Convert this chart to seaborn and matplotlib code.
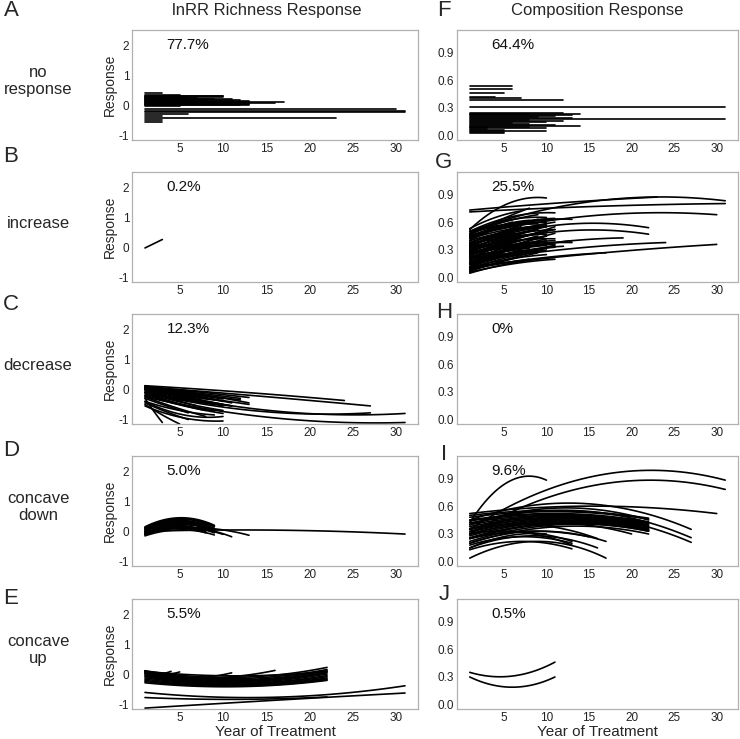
import numpy as np
import pandas as pd
import matplotlib
matplotlib.use("Agg")
import matplotlib.pyplot as plt
import seaborn as sns

# ---- data ----
# A: richness, no response -> flat lines (level, last year)
a_level = [0.41, 0.33, 0.31, 0.30, 0.28, 0.27, 0.25, 0.24, 0.22, 0.21, 0.19, 0.18,
           0.16, 0.12, 0.13, 0.09, 0.10, 0.07, 0.06, 0.04, 0.03, 0.01, 0.00, -0.02,
           -0.12, -0.20, -0.23, -0.30, -0.34, -0.42, -0.48, -0.55]
a_end = [3, 5, 10, 10, 6, 10, 5, 7, 11, 9, 6, 12,
         8, 17, 13, 16, 13, 12, 13, 13, 10, 13, 12, 5,
         30, 31, 31, 6, 3, 23, 3, 3]

# F: composition, no response
f_level = [0.535, 0.50, 0.46, 0.42, 0.41, 0.39, 0.31, 0.245, 0.235, 0.23, 0.22, 0.21,
           0.20, 0.19, 0.185, 0.17, 0.16, 0.15, 0.14, 0.13, 0.12, 0.11, 0.10, 0.09,
           0.08, 0.07, 0.06, 0.05, 0.04, 0.03]
f_end = [6, 6, 5, 4, 7, 12, 31, 12, 14, 8, 13, 11,
         9, 13, 31, 8, 12, 10, 6, 8, 11, 14, 8, 3,
         10, 3, 5, 10, 5, 5]

# fitted curves: last year, value at year 1, value at mid-point, value at last year
b_end = [3]
b_y0 = [-0.02]
b_ymid = [0.12]
b_y1 = [0.26]

c_end = [24, 27, 31, 27, 31, 13, 13, 11, 11, 10, 10, 10, 10, 3, 5, 8, 8, 6, 7, 9,
         9, 12, 7, 6, 9, 10, 5,
         10, 10, 11, 9, 8, 12, 13, 7, 10, 6]
c_y0 = [0.12, 0.08, 0.02, -0.10, -0.25, 0.10, 0.00, 0.05, -0.10, 0.08, -0.02, -0.20,
        -0.55, -0.30, -0.50, -0.10, 0.02, -0.30, -0.15, 0.05, -0.05, 0.10, 0.10, 0.12,
        -0.40, -0.40, 0.00,
        0.00, -0.10, 0.02, -0.20, -0.25, 0.05, 0.08, 0.00, 0.10, -0.45]
c_ymid = [-0.10, -0.22, -0.72, -0.72, -0.95, -0.08, -0.25, -0.18, -0.35, -0.15, -0.30,
          -0.55, -0.95, -0.72, -0.85, -0.45, -0.22, -0.55, -0.40, -0.20, -0.32, -0.10,
          -0.10, -0.05, -0.70, -0.85, -0.20,
          -0.25, -0.45, -0.28, -0.50, -0.60, -0.15, -0.15, -0.30, -0.12, -0.75]
c_y1 = [-0.37, -0.55, -0.80, -0.78, -1.10, -0.27, -0.50, -0.45, -0.55, -0.40, -0.55,
        -0.80, -1.05, -1.10, -1.15, -0.70, -0.40, -0.78, -0.62, -0.35, -0.50, -0.30,
        -0.25, -0.20, -0.85, -0.90, -0.40,
        -0.50, -0.70, -0.55, -0.72, -0.90, -0.35, -0.45, -0.55, -0.32, -1.00]

d_end = [9, 9, 8, 9, 8, 9, 8, 9, 8, 9, 11, 13, 10, 9, 31,
         9, 8, 9, 8, 9]
d_y0 = [0.15, 0.10, 0.12, 0.05, 0.00, 0.00, -0.05, -0.10, -0.12, -0.15, -0.10, -0.05,
        -0.08, 0.08, 0.00,
        0.12, 0.06, -0.03, -0.08, 0.02]
d_ymid = [0.45, 0.40, 0.36, 0.34, 0.30, 0.25, 0.20, 0.15, 0.10, 0.05, 0.12, 0.12,
          0.12, 0.30, 0.04,
          0.42, 0.33, 0.22, 0.16, 0.28]
d_y1 = [0.20, 0.15, 0.22, 0.10, 0.10, 0.05, 0.00, -0.05, -0.05, -0.12, -0.18, -0.13,
        -0.10, 0.18, -0.09,
        0.18, 0.15, 0.02, -0.02, 0.08]

e_end = [22, 22, 22, 22, 22, 22, 22, 22, 22, 22, 22, 22, 22, 4, 5, 11, 16, 31, 22, 31]
e_y0 = [0.12, 0.08, 0.05, 0.02, -0.02, -0.05, -0.08, -0.12, -0.16, -0.20, -0.24, -0.28,
        0.10, 0.12, 0.10, 0.05, 0.02, -0.60, -0.77, -1.12]
e_ymid = [-0.10, -0.14, -0.18, -0.21, -0.24, -0.27, -0.30, -0.32, -0.35, -0.37, -0.39,
          -0.41, -0.05, 0.02, 0.00, -0.12, -0.12, -0.76, -0.83, -0.86]
e_y1 = [0.23, 0.16, 0.12, 0.08, 0.05, 0.01, -0.04, -0.08, -0.12, -0.15, -0.18, -0.20,
        0.10, 0.10, 0.08, 0.05, 0.13, -0.38, -0.75, -0.62]

g_end = [23, 31, 31, 30, 22, 22, 19, 24, 30, 17, 13, 13, 10, 11, 11,
         10, 9, 10, 9, 10, 11, 8, 10, 9, 11, 10, 8, 11, 10, 9, 11, 10,
         8, 9, 7, 8, 6, 10, 11, 9, 8, 10, 11, 13, 10, 9, 7, 6, 5, 12,
         9, 10, 11, 9, 10, 11, 9, 10, 8, 11, 9, 10, 8, 11, 7, 6, 10, 8,
         9, 11, 10, 9, 10, 7, 11, 8]
g_y0 = [0.73, 0.71, 0.50, 0.45, 0.35, 0.30, 0.22, 0.17, 0.12, 0.10, 0.28, 0.45, 0.52,
        0.50, 0.42, 0.48, 0.40, 0.38, 0.35, 0.32, 0.30, 0.28, 0.25, 0.22, 0.20, 0.18,
        0.15, 0.12, 0.10, 0.08, 0.05, 0.07, 0.43, 0.47, 0.53, 0.46, 0.40, 0.36, 0.26,
        0.16, 0.33, 0.44, 0.35, 0.20, 0.12, 0.28, 0.20, 0.30, 0.10, 0.15,
        0.45, 0.40, 0.36, 0.33, 0.30, 0.27, 0.25, 0.23, 0.20, 0.18, 0.14, 0.11, 0.09,
        0.06, 0.38, 0.25, 0.50, 0.37, 0.28, 0.24, 0.15, 0.34, 0.42, 0.12, 0.32, 0.48]
g_ymid = [0.81, 0.77, 0.83, 0.67, 0.57, 0.50, 0.37, 0.31, 0.26, 0.21, 0.36, 0.60, 0.80,
          0.66, 0.58, 0.62, 0.55, 0.50, 0.48, 0.45, 0.42, 0.40, 0.40, 0.35, 0.35, 0.30,
          0.28, 0.25, 0.22, 0.18, 0.16, 0.20, 0.56, 0.60, 0.65, 0.62, 0.52, 0.44, 0.33,
          0.24, 0.46, 0.55, 0.50, 0.32, 0.30, 0.42, 0.32, 0.40, 0.20, 0.28,
          0.55, 0.50, 0.47, 0.42, 0.38, 0.36, 0.33, 0.30, 0.27, 0.27, 0.23, 0.20, 0.15,
          0.15, 0.47, 0.33, 0.58, 0.48, 0.40, 0.40, 0.32, 0.50, 0.52, 0.22, 0.40, 0.56]
g_y1 = [0.87, 0.80, 0.83, 0.68, 0.54, 0.47, 0.43, 0.38, 0.36, 0.27, 0.38, 0.63, 0.86,
        0.70, 0.64, 0.65, 0.60, 0.58, 0.56, 0.55, 0.52, 0.50, 0.50, 0.45, 0.48, 0.40,
        0.38, 0.35, 0.30, 0.27, 0.22, 0.32, 0.62, 0.68, 0.72, 0.75, 0.60, 0.47, 0.36,
        0.28, 0.55, 0.60, 0.60, 0.40, 0.42, 0.52, 0.40, 0.48, 0.27, 0.34,
        0.58, 0.55, 0.52, 0.48, 0.45, 0.40, 0.38, 0.35, 0.32, 0.33, 0.30, 0.25, 0.20,
        0.20, 0.55, 0.38, 0.62, 0.53, 0.47, 0.55, 0.45, 0.63, 0.56, 0.30, 0.42, 0.60]

i_end = [10, 31, 31, 30, 27, 27, 27, 22, 22, 22, 22, 22, 22, 22, 22, 22, 17, 16, 17,
         13, 13, 15, 13, 20, 22,
         22, 22, 22, 22, 22, 22, 22, 22, 13, 10, 16]
i_y0 = [0.42, 0.35, 0.30, 0.52, 0.45, 0.40, 0.35, 0.50, 0.45, 0.42, 0.38, 0.35, 0.32,
        0.28, 0.25, 0.20, 0.04, 0.15, 0.20, 0.13, 0.18, 0.25, 0.30, 0.30, 0.40,
        0.48, 0.44, 0.40, 0.36, 0.33, 0.30, 0.26, 0.22, 0.25, 0.15, 0.35]
i_ymid = [0.86, 0.93, 0.83, 0.60, 0.63, 0.55, 0.50, 0.55, 0.52, 0.50, 0.48, 0.47, 0.45,
          0.43, 0.41, 0.38, 0.22, 0.28, 0.33, 0.22, 0.27, 0.33, 0.32, 0.42, 0.58,
          0.54, 0.51, 0.49, 0.47, 0.46, 0.44, 0.42, 0.40, 0.32, 0.28, 0.40]
i_y1 = [0.88, 0.88, 0.78, 0.52, 0.35, 0.26, 0.21, 0.47, 0.43, 0.41, 0.39, 0.37, 0.36,
        0.34, 0.33, 0.30, 0.04, 0.15, 0.22, 0.14, 0.20, 0.27, 0.18, 0.30, 0.45,
        0.46, 0.42, 0.40, 0.38, 0.37, 0.35, 0.34, 0.33, 0.22, 0.30, 0.25]

j_end = [11, 11]
j_y0 = [0.35, 0.30]
j_ymid = [0.31, 0.19]
j_y1 = [0.46, 0.30]

pct_left = ["77.7%", "0.2%", "12.3%", "5.0%", "5.5%"]
pct_right = ["64.4%", "25.5%", "0%", "9.6%", "0.5%"]
row_names = ["no\nresponse", "increase", "decrease", "concave\ndown", "concave\nup"]
letters_left = ["A", "B", "C", "D", "E"]
letters_right = ["F", "G", "H", "I", "J"]


def flat_frame(levels, ends):
    rows = []
    for i, (lv, e) in enumerate(zip(levels, ends)):
        rows.append((i, 1, lv))
        rows.append((i, e, lv))
    return pd.DataFrame(rows, columns=["curve", "year", "response"])


def curve_frame(ends, y0, ymid, y1):
    # quadratic fit per site through start, middle and end values
    rows = []
    for i in range(len(ends)):
        xs = [1, (1 + ends[i]) / 2, ends[i]]
        coef = np.polyfit(xs, [y0[i], ymid[i], y1[i]], 2)
        yrs = np.linspace(1, ends[i], 40)
        for x, y in zip(yrs, np.polyval(coef, yrs)):
            rows.append((i, x, y))
    return pd.DataFrame(rows, columns=["curve", "year", "response"])


left_data = [flat_frame(a_level, a_end),
             curve_frame(b_end, b_y0, b_ymid, b_y1),
             curve_frame(c_end, c_y0, c_ymid, c_y1),
             curve_frame(d_end, d_y0, d_ymid, d_y1),
             curve_frame(e_end, e_y0, e_ymid, e_y1)]
right_data = [flat_frame(f_level, f_end),
              curve_frame(g_end, g_y0, g_ymid, g_y1),
              None,
              curve_frame(i_end, i_y0, i_ymid, i_y1),
              curve_frame(j_end, j_y0, j_ymid, j_y1)]

sns.set_style("white")
plt.rcParams["font.family"] = ["Liberation Sans", "DejaVu Sans"]
plt.rcParams["axes.unicode_minus"] = False

W, H = 740, 739
fig = plt.figure(figsize=(W / 100, H / 100), dpi=100)

row_tops = [30, 172, 314, 456, 599]
row_h = 110
left_x, left_w = 132, 286
right_x, right_w = 457, 281
letter_y_left = [10, 156, 305, 451, 598]
letter_y_right = [10, 163, 312, 455, 595]


def style_axes(ax, ylim, yticks, ylabels):
    ax.set_xlim(-0.5, 32.5)
    ax.set_ylim(*ylim)
    ax.set_xticks([5, 10, 15, 20, 25, 30])
    ax.set_yticks(yticks)
    ax.set_yticklabels(ylabels)
    ax.tick_params(length=0, labelsize=8.5, pad=2, colors="#222222")
    for sp in ax.spines.values():
        sp.set_color("#b0b0b0")
        sp.set_linewidth(0.9)
    ax.set_xlabel("")
    ax.set_ylabel("")


for r in range(5):
    top = row_tops[r]
    bottom_frac = 1 - (top + row_h) / H
    for col in range(2):
        if col == 0:
            ax = fig.add_axes([left_x / W, bottom_frac, left_w / W, row_h / H])
            df = left_data[r]
        else:
            ax = fig.add_axes([right_x / W, bottom_frac, right_w / W, row_h / H])
            df = right_data[r]
        if df is not None:
            sns.lineplot(data=df, x="year", y="response", units="curve",
                         estimator=None, color="black", linewidth=1.2,
                         legend=False, ax=ax)
        if col == 0:
            style_axes(ax, (-1.15, 2.5), [-1, 0, 1, 2], ["-1", "0", "1", "2"])
            ax.set_ylabel("Response", fontsize=10)
            ax.yaxis.set_label_coords(-15 / left_w, 0.5)
            pct = pct_left[r]
        else:
            style_axes(ax, (-0.045, 1.14), [0, 0.3, 0.6, 0.9],
                       ["0.0", "0.3", "0.6", "0.9"])
            pct = pct_right[r]
        ax.text(3.5, 0.86, pct, transform=ax.get_xaxis_transform(),
                ha="left", va="center", fontsize=11, color="#111111")

    # row label and panel letters
    fig.text(38 / W, 1 - (top + row_h / 2 - 4) / H, row_names[r],
             ha="center", va="center", fontsize=12, linespacing=1.1)
    fig.text(11 / W, 1 - letter_y_left[r] / H, letters_left[r],
             ha="center", va="center", fontsize=16)
    fig.text(444 / W, 1 - letter_y_right[r] / H, letters_right[r],
             ha="center", va="center", fontsize=16)

fig.text(267 / W, 1 - 11 / H, "lnRR Richness Response", ha="center", va="center",
         fontsize=12)
fig.text(597 / W, 1 - 11 / H, "Composition Response", ha="center", va="center",
         fontsize=12)
fig.text((left_x + left_w / 2) / W, 1 - 732 / H, "Year of Treatment",
         ha="center", va="center", fontsize=11)
fig.text((right_x + right_w / 2) / W, 1 - 732 / H, "Year of Treatment",
         ha="center", va="center", fontsize=11)

fig.savefig("out.png", dpi=100)
